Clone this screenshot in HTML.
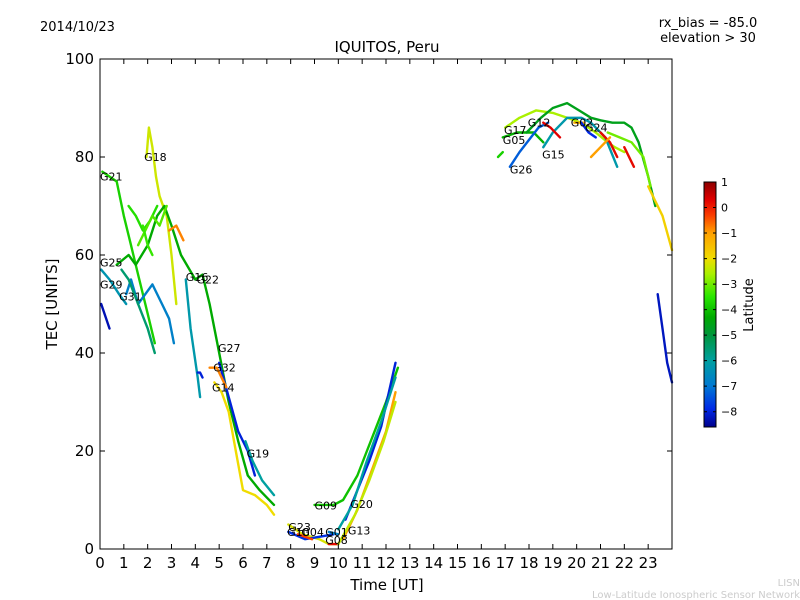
<!DOCTYPE html>
<html><head><meta charset="utf-8"><style>
body{margin:0;background:#fff;}
svg{display:block;font-family:"DejaVu Sans","Liberation Sans",sans-serif;}
</style></head><body>
<svg id="chart" width="800" height="600" viewBox="0 0 800 600">
<defs>
<linearGradient id="cbg" x1="0" y1="1" x2="0" y2="0"></linearGradient>
</defs>
<text x="40" y="31" font-size="13">2014/10/23</text>
<text x="708" y="27" font-size="13" text-anchor="middle">rx_bias = -85.0</text>
<text x="708" y="42" font-size="13" text-anchor="middle">elevation &gt; 30</text>
<text x="387" y="52" font-size="15" text-anchor="middle">IQUITOS, Peru</text>
<rect x="100" y="59" width="572" height="490" fill="#fff" stroke="none"/>
<g id="marks"></g>
<g id="labels"></g>
<rect x="100" y="59" width="572" height="490" fill="none" stroke="#000" stroke-width="1"/>
<g id="xaxis"></g>
<g id="yaxis"></g>
<text x="387" y="590" font-size="15" text-anchor="middle">Time [UT]</text>
<text x="57" y="304" font-size="15" text-anchor="middle" transform="rotate(-90 57 304)">TEC [UNITS]</text>
<rect x="704" y="182" width="12" height="245" fill="url(#cbg)" stroke="#000" stroke-width="1"/>
<g id="cbticks"></g>
<text x="753" y="305" font-size="13" text-anchor="middle" transform="rotate(-90 753 305)">Latitude</text>
<text x="800" y="586" font-size="10" fill="#ccc" text-anchor="end">LISN</text>
<text x="800" y="598" font-size="10" fill="#ccc" text-anchor="end">Low-Latitude Ionospheric Sensor Network</text>
</svg>
<script>
const xTicks=[0,1,2,3,4,5,6,7,8,9,10,11,12,13,14,15,16,17,18,19,20,21,22,23];
const yTicks=[0,20,40,60,80,100];
const cbTicks=[1,0,-1,-2,-3,-4,-5,-6,-7,-8];
const trackNames=["G21","G18","G25","G29","G31","G16","G22","G27","G32","G14","G19","G23","G10","G04","G01","G08","G09","G20","G13","S1","S2","S3","S4","G17","G05","GA","G15","G26","G12","G02","G24","R1","R2","R3","Y1","B1","S5","S6","S7","S8","S9","S10"];
const trackTimes=[
[0.1,0.7,1.0,1.3,1.6,2.0,2.3],
[1.95,2.05,2.2,2.35,2.5,2.8,3.0,3.2],
[0.05,0.4,0.8,1.1],
[0.05,0.4],
[1.1,1.3,1.6,2.2,2.6,2.9,3.1],
[3.6,3.8,4.1,4.2],
[0.7,1.2,1.5,2.0,2.4,2.7,3.0,3.4,4.0,4.3,4.6,5.0,5.4,5.8,6.2,6.7,7.3],
[5.0,5.4,5.8,6.2,6.5],
[4.6,4.9,5.3],
[4.8,5.1,5.4,5.7,6.0,6.5,7.0,7.3],
[6.1,6.4,6.8,7.3],
[7.9,8.5,9.2,9.6,10.0],
[7.9,8.6,9.2,9.8],
[8.3,8.9],
[9.6,10.0],
[9.6,10.0],
[9.0,9.8,10.2,10.8,11.2,11.6,12.0,12.5],
[10.3,10.8,11.3,11.8,12.4],
[10.0,10.6,11.2,11.8,12.4],
[10.2,10.8,11.4,12.0,12.4],
[10.0,10.7,11.3,11.9,12.4],
[2.9,3.2,3.5],
[4.1,4.2,4.3],
[17.0,17.6,18.3,19.0,19.6,20.2,20.8,21.3,21.6,22.0],
[16.9,17.5,18.2,18.6],
[17.9,18.5,19.0,19.6,20.1,20.6,21.0,21.5,22.0,22.3,22.6,23.0,23.3],
[18.6,19.0,19.6,20.2,20.6,21.2,21.7],
[17.2,17.6,18.0,18.4,18.8],
[18.6,18.9,19.3],
[19.9,20.3],
[20.2,20.5,20.8],
[21.0,21.4,21.7],
[22.0,22.4],
[20.6,21.0,21.4],
[23.0,23.3,23.6,24.0],
[23.4,23.6,23.8,24.0],
[16.7,16.9],
[1.2,1.5,1.8,2.1,2.4],
[1.6,1.9,2.2,2.5,2.8],
[0.9,1.2,1.6,2.0,2.3],
[21.3,21.8,22.3,22.8,23.1],
[1.8,2.0,2.2]
];
const trackTec=[
[77,75,68,62,56,48,42],
[80,86,82,76,72,68,60,50],
[57,55,52,50],
[50,45],
[52,55,50,54,50,47,42],
[55,45,35,31],
[58,60,58,62,68,70,66,60,55,56,50,40,30,22,15,12,9],
[38,31,24,20,15],
[37,37,33],
[34,32,28,20,12,11,9,7],
[22,18,14,11],
[5,3,2,1,1],
[3.5,2,2.5,3],
[3,2],
[3.5,3],
[1,1],
[9,9,10,15,20,25,30,37],
[6,12,18,25,38],
[4,9,18,26,35],
[2,8,16,24,32],
[1,7,14,22,30],
[65,66,63],
[36,36,35],
[86,88,89.5,89,88,87,85,83,82,81],
[84,85,85,83],
[85,88,90,91,89.5,88,87.5,87,87,86,83,76,70],
[82,85,88,88,87,84,78],
[78,81,83.5,86,87],
[87,86,84],
[87,87],
[87,85,84],
[85,83,80],
[82,78],
[80,82,84],
[74,71,68,61],
[52,45,38,34],
[80,81],
[70,68,65,67,70],
[62,65,68,66,70],
[57,55,50,45,40],
[85,84,83,80,74],
[66,62,60]
];
const trackLat=[-3.8,-2.3,-6.3,-8.3,-6.8,-6.2,-4.3,-8.0,-0.8,-2.0,-6.0,-2.2,-7.8,-0.3,-6.8,0.2,-4.0,-8.0,-6.0,-1.0,-2.4,-0.8,-8.0,-2.6,-4.2,-4.6,-6.2,-7.3,0.3,-1.2,-7.9,0.2,0.2,-1.0,-1.8,-8.2,-3.8,-3.6,-3.2,-5.5,-3.0,-3.4];
const labelNames=["G21","G18","G25","G29","G31","G16","G22","G27","G32","G14","G19","G23","G10","G04","G01","G08","G09","G20","G13","G17","G05","G12","G15","G26","G02","G24"];
const labelT=[0.0,1.85,0.0,0.0,0.8,3.6,4.05,4.95,4.75,4.7,6.15,7.9,7.85,8.45,9.45,9.45,9.0,10.5,10.4,16.95,16.9,17.95,18.55,17.2,19.75,20.35];
const labelTec=[76,80,58.5,54,51.5,55.5,55,41,37,33,19.5,4.5,3.5,3.5,3.5,1.8,8.9,9.2,3.8,85.5,83.5,87,80.5,77.5,87,86];

const X0=100,X1=672,Y0=549,Y1=59;
const xs=t=>X0+t*(X1-X0)/24;
const ys=v=>Y0-v*(Y0-Y1)/100;
const cbY=l=>182+(1-l)*245/9.6;
const NS="http://www.w3.org/2000/svg";
const stops=[[-8.6,[0,0,140]],[-7.9,[0,40,230]],[-7,[0,120,210]],[-6,[0,160,160]],[-5,[0,150,60]],[-4.3,[0,170,0]],[-3.5,[40,230,0]],[-2.6,[170,240,0]],[-2,[240,220,0]],[-1,[255,160,0]],[-0.3,[250,60,0]],[0.3,[225,0,0]],[1,[140,0,0]]];
function col(l){
  if(l<=stops[0][0])return `rgb(${stops[0][1]})`;
  for(let i=1;i<stops.length;i++){
    if(l<=stops[i][0]){const a=stops[i-1],b=stops[i],f=(l-a[0])/(b[0]-a[0]);
      return `rgb(${a[1].map((c,k)=>Math.round(c+(b[1][k]-c)*f)).join(',')})`;}
  }
  return `rgb(${stops[stops.length-1][1]})`;
}
const grad=document.getElementById('cbg');
stops.forEach(s=>{const st=document.createElementNS(NS,'stop');
st.setAttribute('offset',((s[0]+8.6)/9.6).toFixed(3));st.setAttribute('stop-color',col(s[0]));grad.appendChild(st);});
const marks=document.getElementById('marks');
trackNames.forEach((n,i)=>{
  const p=document.createElementNS(NS,'polyline');
  
  
  p.setAttribute('points',trackTimes[i].map((t,k)=>xs(t).toFixed(1)+','+ys(trackTec[i][k]).toFixed(1)).join(' '));
  p.setAttribute('fill','none');p.setAttribute('stroke',col(trackLat[i]));
  p.setAttribute('stroke-width','2.4');p.setAttribute('stroke-linejoin','round');p.setAttribute('stroke-linecap','round');
  marks.appendChild(p);
});
const lg=document.getElementById('labels');
labelNames.forEach((n,i)=>{
  const t=document.createElementNS(NS,'text');
  
  
  t.setAttribute('x',xs(labelT[i]).toFixed(1));t.setAttribute('y',(ys(labelTec[i])+4).toFixed(1));
  t.setAttribute('font-size','11');t.textContent=n;lg.appendChild(t);
});
const xa=document.getElementById('xaxis');
xTicks.forEach(v=>{
  const x=xs(v);
  const l=document.createElementNS(NS,'path');
  
  
  l.setAttribute('d',`M${x},549v-5M${x},59v5`);l.setAttribute('stroke','#000');xa.appendChild(l);
  const t=document.createElementNS(NS,'text');
  
  
  t.setAttribute('x',x);t.setAttribute('y',568);t.setAttribute('font-size','15');t.setAttribute('text-anchor','middle');
  t.textContent=v;xa.appendChild(t);
});
const ya=document.getElementById('yaxis');
yTicks.forEach(v=>{
  const y=ys(v);
  const l=document.createElementNS(NS,'path');
  
  
  l.setAttribute('d',`M100,${y}h5M672,${y}h-5`);l.setAttribute('stroke','#000');ya.appendChild(l);
  const t=document.createElementNS(NS,'text');
  
  
  t.setAttribute('x',94);t.setAttribute('y',y+5);t.setAttribute('font-size','15');t.setAttribute('text-anchor','end');
  t.textContent=v;ya.appendChild(t);
});
const cb=document.getElementById('cbticks');
cbTicks.forEach(v=>{
  const y=cbY(v);
  const l=document.createElementNS(NS,'path');
  
  
  l.setAttribute('d',`M704,${y}h3M716,${y}h-3`);l.setAttribute('stroke','#000');cb.appendChild(l);
  const t=document.createElementNS(NS,'text');
  
  
  t.setAttribute('x',721);t.setAttribute('y',y+4);t.setAttribute('font-size','11');
  t.textContent=v<0?'\u2212'+(-v):v;cb.appendChild(t);
});
</script>
</body></html>
